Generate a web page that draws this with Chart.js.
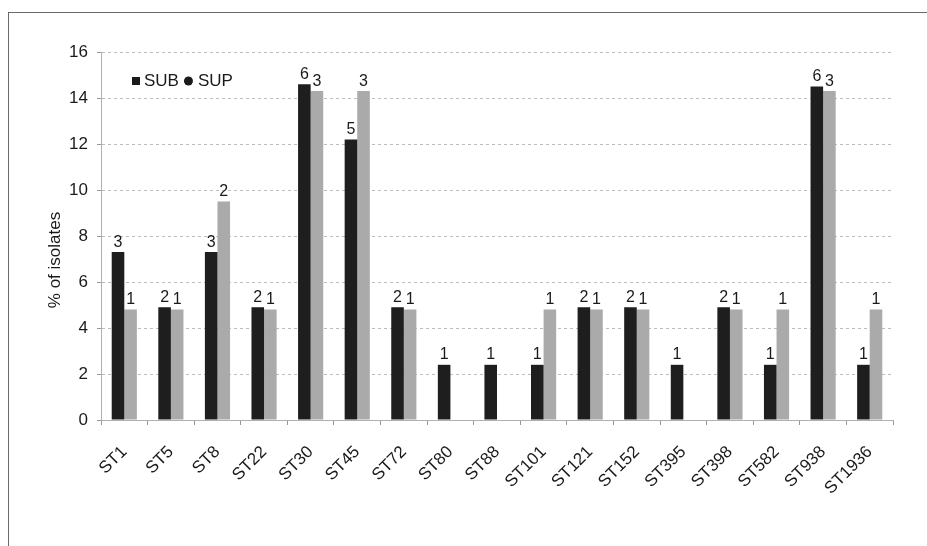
<!DOCTYPE html>
<html>
<head>
<meta charset="utf-8">
<script src="https://cdn.jsdelivr.net/npm/chart.js@4.4.1/dist/chart.umd.min.js"></script>
<style>
  html, body { margin: 0; padding: 0; background: #fff; }
  #wrap { position: relative; width: 927px; height: 546px; overflow: hidden; }
  #frame { position: absolute; left: 8px; top: 12px; width: 930px; height: 560px; border: 1px solid #6a6a6a; box-sizing: border-box; pointer-events: none; }
</style>
</head>
<body>
<div id="wrap">
  <canvas id="c" width="927" height="546"></canvas>
  <div id="frame"></div>
</div>
<script>
const categories = ['ST1','ST5','ST8','ST22','ST30','ST45','ST72','ST80','ST88','ST101','ST121','ST152','ST395','ST398','ST582','ST938','ST1936'];
const subPercent = [7.3, 4.9, 7.3, 4.9, 14.6, 12.2, 4.9, 2.4, 2.4, 2.4, 4.9, 4.9, 2.4, 4.9, 2.4, 14.5, 2.4];
const supPercent = [4.8, 4.8, 9.5, 4.8, 14.3, 14.3, 4.8, null, null, 4.8, 4.8, 4.8, null, 4.8, 4.8, 14.3, 4.8];
const subCounts = [3, 2, 3, 2, 6, 5, 2, 1, 1, 1, 2, 2, 1, 2, 1, 6, 1];
const supCounts = [1, 1, 2, 1, 3, 3, 1, null, null, 1, 1, 1, null, 1, 1, 3, 1];
const yTicks = { min: 0, max: 16, step: 2 };
const seriesNames = ['SUB', 'SUP'];
const yTitle = '% of isolates';

const FONT = '"Liberation Sans", Arial, sans-serif';
const countSets = [subCounts, supCounts];

const barLabels = {
  id: 'barLabels',
  afterDatasetsDraw(chart) {
    const ctx = chart.ctx;
    ctx.save();
    ctx.font = '16px ' + FONT;
    ctx.fillStyle = '#1a1a1a';
    ctx.textAlign = 'center';
    ctx.textBaseline = 'bottom';
    chart.data.datasets.forEach((ds, di) => {
      const meta = chart.getDatasetMeta(di);
      meta.data.forEach((bar, i) => {
        const c = countSets[di][i];
        if (c === null || ds.data[i] === null) return;
        ctx.fillText(String(c), bar.x, bar.y - 2);
      });
    });
    ctx.restore();
  }
};

const innerLegend = {
  id: 'innerLegend',
  afterDraw(chart) {
    const ctx = chart.ctx;
    ctx.save();
    ctx.font = '17px ' + FONT;
    ctx.textBaseline = 'middle';
    ctx.textAlign = 'left';
    const y = 81;
    let x = 132;
    ctx.fillStyle = '#1a1a1a';
    ctx.fillRect(x, y - 4, 8, 8);
    x += 12;
    ctx.fillText(chart.data.datasets[0].label, x, y);
    x += ctx.measureText(chart.data.datasets[0].label).width + 5;
    ctx.beginPath();
    ctx.arc(x + 4.5, y, 4.5, 0, Math.PI * 2);
    ctx.fill();
    x += 14;
    ctx.fillText(chart.data.datasets[1].label, x, y);
    ctx.restore();
  }
};

const yAxisTitle = {
  id: 'yAxisTitle',
  afterDraw(chart) {
    const ctx = chart.ctx;
    ctx.save();
    ctx.font = '17px ' + FONT;
    ctx.fillStyle = '#1a1a1a';
    ctx.textAlign = 'center';
    ctx.textBaseline = 'middle';
    ctx.translate(55, 260);
    ctx.rotate(-Math.PI / 2);
    ctx.fillText(yTitle, 0, 0);
    ctx.restore();
  }
};

new Chart(document.getElementById('c'), {
  type: 'bar',
  data: {
    labels: categories,
    datasets: [
      { label: seriesNames[0], data: subPercent, backgroundColor: '#1e1e1e', barPercentage: 1.0, categoryPercentage: 0.54 },
      { label: seriesNames[1], data: supPercent, backgroundColor: '#aaaaaa', barPercentage: 1.0, categoryPercentage: 0.54 }
    ]
  },
  options: {
    responsive: false,
    animation: false,
    devicePixelRatio: 1,
    layout: { padding: { left: 42, top: 52, right: 34, bottom: 0 } },
    plugins: { legend: { display: false }, tooltip: { enabled: false } },
    scales: {
      x: {
        grid: { display: true, drawOnChartArea: false, tickLength: 5, color: '#999', offset: true },
        border: { display: true, color: '#b0b0b0', dash: [3, 3] },
        ticks: { color: '#1a1a1a', font: { family: FONT, size: 17 }, maxRotation: 45, minRotation: 45, padding: 17, autoSkip: false },
        afterFit(s) { s.height = 126; }
      },
      y: {
        min: yTicks.min, max: yTicks.max,
        ticks: { stepSize: yTicks.step, color: '#1a1a1a', font: { family: FONT, size: 17 }, padding: 9 },
        grid: { color: '#bdbdbd', tickLength: 4, tickColor: '#999' },
        border: { display: true, color: '#b0b0b0', dash: [3, 3] },
        title: { display: false },
        afterFit(s) { s.width = 59; }
      }
    }
  },
  plugins: [barLabels, innerLegend, yAxisTitle]
});
</script>
</body>
</html>
